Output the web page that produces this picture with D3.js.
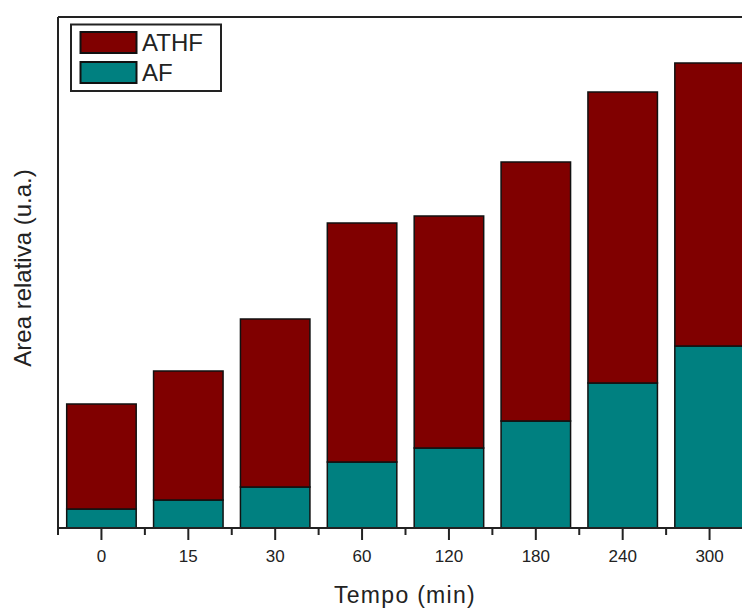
<!DOCTYPE html>
<html>
<head>
<meta charset="utf-8">
<script src="https://cdn.jsdelivr.net/npm/d3@7"></script>
<style>
  html, body { margin: 0; padding: 0; background: #fff; }
  svg { display: block; }
</style>
</head>
<body>
<svg id="chart" width="742" height="608"></svg>
<script>
// Data (arbitrary units)
const categories = ["0", "15", "30", "60", "120", "180", "240", "300"];
const seriesNames = ["AF", "ATHF"];
const afValues   = [0.19, 0.28, 0.41, 0.66, 0.80, 1.07, 1.45, 1.82];
const athfValues = [1.05, 1.29, 1.68, 2.39, 2.32, 2.59, 2.91, 2.83];
const yMax = 5.11;
const xTitle = "Tempo (min)";
const yTitle = "Area relativa (u.a.)";

const colors = { AF: "#008080", ATHF: "#800000" };

const margin = { left: 58, top: 17, bottom: 80 };
const plotRight = 753;
const yBottom = 528;

const svg = d3.select("#chart");

const table = categories.map((c, i) => ({ cat: c, AF: afValues[i], ATHF: athfValues[i] }));
const stack = d3.stack().keys(seriesNames)(table);

const x = d3.scaleBand()
  .domain(categories)
  .range([margin.left, plotRight])
  .paddingInner(0.2)
  .paddingOuter(0.1);

const y = d3.scaleLinear()
  .domain([0, yMax])
  .range([yBottom, margin.top]);

// Bars
svg.append("g").selectAll("g")
  .data(stack)
  .join("g")
  .attr("fill", d => colors[d.key])
  .selectAll("rect")
  .data(d => d)
  .join("rect")
  .attr("x", d => x(d.data.cat))
  .attr("width", x.bandwidth())
  .attr("y", d => y(d[1]))
  .attr("height", d => y(d[0]) - y(d[1]))
  .attr("stroke", "#111")
  .attr("stroke-width", 1.5);

// Frame (top + left)
svg.append("line")
  .attr("x1", margin.left).attr("x2", plotRight)
  .attr("y1", margin.top).attr("y2", margin.top)
  .attr("stroke", "#222").attr("stroke-width", 2);
svg.append("line")
  .attr("x1", margin.left).attr("x2", margin.left)
  .attr("y1", margin.top).attr("y2", yBottom)
  .attr("stroke", "#222").attr("stroke-width", 2);

// X axis
const xAxis = d3.axisBottom(x).tickSize(12).tickPadding(10);
const gx = svg.append("g")
  .attr("transform", `translate(0,${yBottom})`)
  .call(xAxis);
gx.select(".domain").attr("stroke", "#222").attr("stroke-width", 2)
  .attr("d", `M${margin.left},0H${plotRight}`);
gx.selectAll(".tick line").attr("stroke", "#222").attr("stroke-width", 2);
gx.selectAll(".tick text")
  .attr("font-family", "Liberation Sans, Arial, sans-serif")
  .attr("font-size", 17)
  .attr("fill", "#222");

// Minor ticks at band boundaries
const step = x.step();
const boundaries = categories.map((c) => x(c) - (step - x.bandwidth()) / 2);
gx.selectAll(".minor")
  .data(boundaries)
  .join("line")
  .attr("class", "minor")
  .attr("x1", d => d).attr("x2", d => d)
  .attr("y1", 0).attr("y2", 7)
  .attr("stroke", "#222").attr("stroke-width", 2);

// Axis titles
svg.append("text")
  .attr("x", 405).attr("y", 603)
  .attr("text-anchor", "middle")
  .attr("font-family", "Liberation Sans, Arial, sans-serif")
  .attr("font-size", 23)
  .attr("letter-spacing", 1.3)
  .attr("fill", "#222")
  .text(xTitle);

svg.append("text")
  .attr("transform", "translate(31,268) rotate(-90)")
  .attr("text-anchor", "middle")
  .attr("font-family", "Liberation Sans, Arial, sans-serif")
  .attr("font-size", 24)
  .attr("fill", "#222")
  .text(yTitle);

// Legend
const legend = svg.append("g");
legend.append("rect")
  .attr("x", 71).attr("y", 24.5).attr("width", 150).attr("height", 66.5)
  .attr("fill", "#fff").attr("stroke", "#222").attr("stroke-width", 2);
const legendItems = ["ATHF", "AF"];
legend.selectAll("g.item")
  .data(legendItems)
  .join("g")
  .attr("class", "item")
  .attr("transform", (d, i) => `translate(0,${i * 30})`)
  .each(function(d) {
    const g = d3.select(this);
    g.append("rect")
      .attr("x", 80.5).attr("y", 32).attr("width", 56).attr("height", 21)
      .attr("fill", colors[d]).attr("stroke", "#111").attr("stroke-width", 2);
    g.append("text")
      .attr("x", 142).attr("y", 51)
      .attr("font-family", "Liberation Sans, Arial, sans-serif")
      .attr("font-size", 24)
      .attr("fill", "#222")
      .text(d);
  });
</script>
</body>
</html>
